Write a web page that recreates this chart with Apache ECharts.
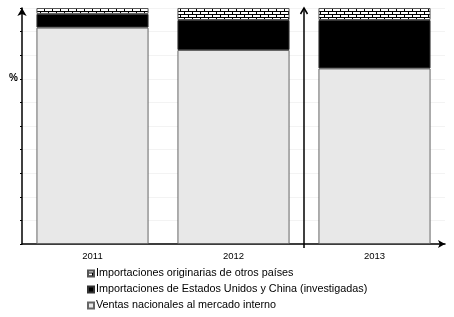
<!DOCTYPE html>
<html>
<head>
<meta charset="utf-8">
<script src="https://cdn.jsdelivr.net/npm/echarts@6/dist/echarts.min.js"></script>
<style>html,body{margin:0;padding:0;background:#fff}#c{width:454px;height:317px}</style>
</head>
<body>
<div id="c"></div>
<script>
var categories = ['2011', '2012', '2013'];
var ventasNacionales = [91.7, 82.2, 74.4];
var importInvestigadas = [5.8, 12.7, 20.5];
var importOtros = [2.5, 5.1, 5.1];
var seriesNames = [
  'Importaciones originarias de otros países',
  'Importaciones de Estados Unidos y China (investigadas)',
  'Ventas nacionales al mercado interno'
];

function brickPattern() {
  var c = document.createElement('canvas');
  c.width = 8; c.height = 6;
  var g = c.getContext('2d');
  g.fillStyle = '#fff'; g.fillRect(0, 0, 8, 6);
  g.fillStyle = '#000';
  g.fillRect(0, 2, 8, 1);
  g.fillRect(0, 5, 8, 1);
  g.fillRect(0, 0, 1, 2);
  g.fillRect(4, 3, 1, 2);
  return c;
}

var chart = echarts.init(document.getElementById('c'), null, {renderer: 'canvas'});
var font = 'Liberation Sans, Arial, sans-serif';
var option = {
  animation: false,
  title: {text: '%', left: 4, top: 68, textStyle: {fontSize: 10, fontWeight: 'bold', color: '#000', fontFamily: font}},
  grid: {left: 22, right: 9, top: 8, bottom: 73, containLabel: false},
  legend: {
    orient: 'vertical', left: 87, top: 268, height: 60, itemWidth: 6, itemHeight: 6, itemGap: 5,
    icon: 'rect', padding: 0,
    data: seriesNames,
    textStyle: {fontSize: 10.8, color: '#000', fontFamily: font, padding: [0, 0, 0, -3]}
  },
  xAxis: {
    type: 'category', data: categories,
    axisLine: {lineStyle: {color: '#000', width: 1.5}, symbol: ['none', 'arrow'], symbolSize: [6, 7]},
    axisTick: {show: false},
    axisLabel: {fontSize: 9.5, color: '#000', fontFamily: font, margin: 7}
  },
  yAxis: {
    type: 'value', min: 0, max: 100, interval: 10,
    axisLine: {show: true, lineStyle: {color: '#000', width: 1.5}, symbol: ['none', 'arrow'], symbolSize: [7, 8]},
    axisTick: {show: true, length: 2, lineStyle: {color: '#000'}},
    axisLabel: {show: false},
    splitLine: {show: true, lineStyle: {color: '#f3f3f3', width: 1}}
  },
  series: [
    {name: seriesNames[2], type: 'bar', stack: 's', data: ventasNacionales, barWidth: '79.5%',
     itemStyle: {color: '#e8e8e8', borderColor: '#666', borderWidth: 1}},
    {name: seriesNames[1], type: 'bar', stack: 's', data: importInvestigadas,
     itemStyle: {color: '#000', borderColor: '#333', borderWidth: 1}},
    {name: seriesNames[0], type: 'bar', stack: 's', data: importOtros,
     itemStyle: {color: {image: brickPattern(), repeat: 'repeat'}, borderColor: '#555', borderWidth: 1}}
  ]
};
chart.setOption(option);

var p2 = chart.convertToPixel({xAxisIndex: 0}, categories[1]);
var p3 = chart.convertToPixel({xAxisIndex: 0}, categories[2]);
var xb = Math.round((p2 + p3) / 2);
var yTop = chart.convertToPixel({yAxisIndex: 0}, 100);
var yBot = chart.convertToPixel({yAxisIndex: 0}, 0);
chart.setOption({
  graphic: [
    {type: 'line', shape: {x1: xb, y1: yBot + 4, x2: xb, y2: yTop + 1}, style: {stroke: '#000', lineWidth: 1.5}},
    {type: 'polyline', shape: {points: [[xb - 3.5, yTop + 6], [xb, yTop], [xb + 3.5, yTop + 6]]}, style: {stroke: '#000', lineWidth: 1.5, fill: null}}
  ]
});
</script>
</body>
</html>
